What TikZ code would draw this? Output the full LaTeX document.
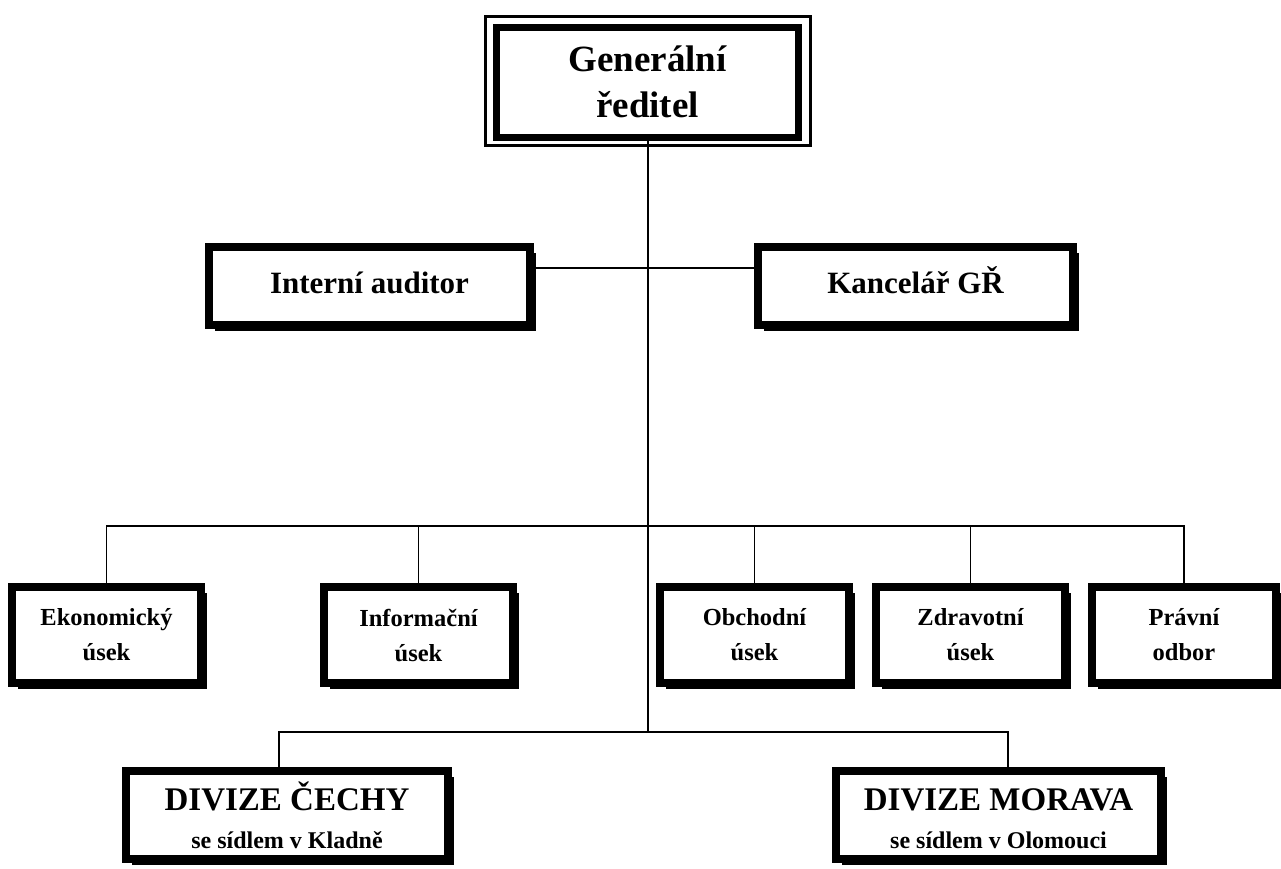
\documentclass[tikz,border=0pt]{standalone}
\usepackage{fontspec}
\setmainfont{Liberation Serif}
\usetikzlibrary{shadows}
\begin{document}
\begin{tikzpicture}[x=1pt,y=-1pt,
  conn/.style={line width=1.6pt},
  box/.style={draw, fill=white, line width=8pt, inner sep=0pt, align=center,
    font=\bfseries, general shadow={fill=black, shadow xshift=5.5pt, shadow yshift=-5.5pt}},
  unit/.style={box, minimum width=189pt, minimum height=96pt,
    font=\fontsize{24.5}{35}\selectfont\bfseries},
  staff/.style={box, minimum height=78pt, text height=21pt, text depth=6pt,
    font=\fontsize{31}{34}\selectfont\bfseries},
  div/.style={box, minimum height=88pt, font=\fontsize{24}{38}\selectfont\bfseries},
  head/.style={draw, fill=white, line width=7pt, inner sep=0pt, align=center,
    minimum width=302pt, minimum height=110pt,
    font=\fontsize{37}{46}\selectfont\bfseries,
    general shadow={fill=black, shadow xshift=2pt, shadow yshift=-3pt}}]
\useasboundingbox (0,0) rectangle (1281,868);

% head
\node[head] (gr) at (647.5,82) {Generální\\ředitel};
\draw[line width=3pt] ([shift={(-7.5pt,7.5pt)}]gr.north west) rectangle ([shift={(8pt,-5pt)}]gr.south east);

% staff
\node[staff, minimum width=321pt] (ia) at (369.5,286) {Interní auditor};
\node[staff, minimum width=315pt] (kg) at (915.5,286) {Kancelář GŘ};

% units
\node[unit] (eko) at (106.5,635) {Ekonomický\\úsek};
\node[unit] (inf) at (418.5,635) {Informační\\úsek};
\node[unit] (obc) at (754.5,635) {Obchodní\\úsek};
\node[unit] (zdr) at (970.5,635) {Zdravotní\\úsek};
\node[unit, minimum width=184pt] (pra) at (1184,635) {Právní\\odbor};

% divisions
\node[div, minimum width=322pt] (ce) at (287,815)
  {{\fontsize{33}{38}\selectfont DIVIZE ČECHY}\\se sídlem v Kladně};
\node[div, minimum width=325pt] (mo) at (998.5,815)
  {{\fontsize{33}{38}\selectfont\vphantom{Č}DIVIZE MORAVA}\\se sídlem v Olomouci};

% coordinates
\coordinate (jbus) at (648,526);
\coordinate (jdiv) at (648,732);
\coordinate (jstaff) at (648,268);
\coordinate (cedrop) at (279,732);
\coordinate (modrop) at (1008,732);

% connectors
\draw[conn] (gr.south -| jdiv) -- (jdiv);
\draw[conn] (ia.east |- jstaff) -- (kg.west |- jstaff);
\draw[conn] (eko.north) -- (eko.north |- jbus) -- (pra.north |- jbus) -- (pra.north);
\draw[conn] (inf.north) -- (inf.north |- jbus);
\draw[conn] (obc.north) -- (obc.north |- jbus);
\draw[conn] (zdr.north) -- (zdr.north |- jbus);
\draw[conn] (ce.north -| cedrop) -- (cedrop) -- (modrop) -- (mo.north -| modrop);
\end{tikzpicture}
\end{document}
